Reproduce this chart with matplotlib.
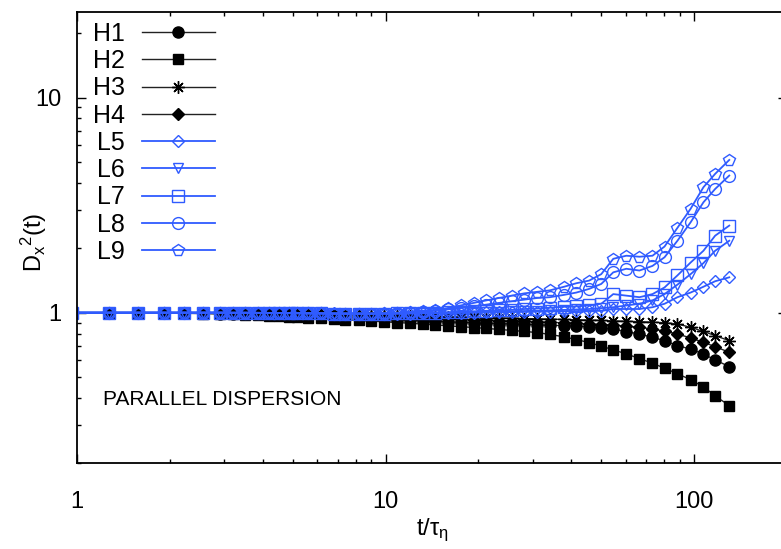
import matplotlib
matplotlib.use('Agg')
import matplotlib.pyplot as plt
from matplotlib.ticker import LogLocator, FormatStrFormatter, NullFormatter

plt.rcParams['font.family'] = ['Liberation Sans', 'DejaVu Sans']
plt.rcParams['mathtext.default'] = 'regular'

# sampling times t/tau_eta (first one sits just left of the axis)
t = [0.96, 1.27, 1.58, 1.92, 2.23, 2.57, 2.91, 3.2,
     3.51, 3.85, 4.18, 4.51, 4.85, 5.18, 5.6, 6.2,
     6.8, 7.4, 8.2, 9.0, 9.9, 10.9, 12.0, 13.2,
     14.5, 15.9, 17.5, 19.3, 21.2, 23.3, 25.6, 28.2,
     31.0, 34.1, 37.9, 41.5, 45.7, 50.0, 54.7, 60.3,
     66.5, 73.3, 80.2, 88.3, 97.4, 107.2, 117.0, 130.0]

h1 = [1.0, 1.0, 1.0, 1.0, 0.998, 0.995, 0.99, 0.988,
      0.985, 0.982, 0.978, 0.975, 0.972, 0.968, 0.964, 0.958,
      0.953, 0.948, 0.942, 0.937, 0.932, 0.927, 0.922, 0.917,
      0.912, 0.907, 0.902, 0.898, 0.894, 0.89, 0.886, 0.882,
      0.878, 0.874, 0.87, 0.866, 0.86, 0.853, 0.84, 0.816,
      0.796, 0.768, 0.741, 0.702, 0.678, 0.642, 0.603, 0.561]
h2 = [1.0, 1.0, 1.0, 0.997, 0.993, 0.99, 0.986, 0.982,
      0.978, 0.973, 0.968, 0.963, 0.958, 0.953, 0.947, 0.94,
      0.934, 0.928, 0.921, 0.914, 0.907, 0.9, 0.893, 0.885,
      0.877, 0.869, 0.861, 0.853, 0.845, 0.836, 0.827, 0.818,
      0.808, 0.792, 0.772, 0.75, 0.726, 0.699, 0.672, 0.643,
      0.612, 0.582, 0.552, 0.52, 0.488, 0.452, 0.41, 0.37]
h3 = [1.0, 1.0, 1.0, 1.0, 1.0, 1.0, 0.998, 0.997,
      0.996, 0.995, 0.994, 0.993, 0.992, 0.99, 0.988, 0.986,
      0.984, 0.981, 0.978, 0.975, 0.972, 0.969, 0.966, 0.963,
      0.96, 0.957, 0.954, 0.951, 0.948, 0.945, 0.942, 0.939,
      0.936, 0.933, 0.93, 0.927, 0.924, 0.92, 0.916, 0.912,
      0.908, 0.903, 0.898, 0.886, 0.855, 0.818, 0.782, 0.741]
h4 = [1.0, 1.0, 1.0, 1.0, 0.999, 0.997, 0.995, 0.993,
      0.991, 0.989, 0.987, 0.985, 0.983, 0.98, 0.977, 0.974,
      0.971, 0.967, 0.963, 0.959, 0.955, 0.951, 0.947, 0.943,
      0.939, 0.935, 0.931, 0.927, 0.923, 0.919, 0.915, 0.911,
      0.907, 0.902, 0.897, 0.892, 0.887, 0.881, 0.875, 0.866,
      0.855, 0.84, 0.82, 0.796, 0.763, 0.728, 0.695, 0.654]
l5 = [1.0, 1.0, 1.0, 1.0, 1.0, 1.0, 1.0, 0.999,
      0.999, 0.998, 0.998, 0.997, 0.996, 0.995, 0.994, 0.993,
      0.992, 0.991, 0.99, 0.99, 0.99, 0.99, 0.991, 0.993,
      0.995, 0.997, 0.999, 1.0, 1.002, 1.004, 1.006, 1.008,
      1.01, 1.012, 1.015, 1.017, 1.02, 1.02, 1.04, 1.04,
      1.04, 1.06, 1.10, 1.18, 1.24, 1.32, 1.40, 1.46]
l6 = [1.0, 1.0, 1.0, 1.0, 1.0, 1.0, 1.0, 0.999,
      0.999, 0.998, 0.997, 0.996, 0.995, 0.994, 0.993, 0.992,
      0.991, 0.99, 0.99, 0.99, 0.99, 0.991, 0.993, 0.996,
      1.0, 1.0, 1.003, 1.006, 1.009, 1.012, 1.015, 1.018,
      1.02, 1.025, 1.03, 1.035, 1.04, 1.05, 1.06, 1.08,
      1.10, 1.14, 1.22, 1.35, 1.51, 1.70, 1.94, 2.16]
l7 = [1.0, 1.0, 1.0, 1.0, 1.0, 1.0, 1.0, 0.999,
      0.999, 0.998, 0.997, 0.996, 0.995, 0.994, 0.993, 0.992,
      0.991, 0.99, 0.99, 0.99, 0.991, 0.993, 0.996, 0.998,
      1.0, 1.005, 1.01, 1.015, 1.02, 1.025, 1.03, 1.04,
      1.045, 1.055, 1.065, 1.07, 1.08, 1.10, 1.22, 1.20,
      1.18, 1.22, 1.31, 1.49, 1.71, 1.94, 2.28, 2.54]
l8 = [1.0, 1.0, 1.0, 1.0, 1.0, 1.0, 1.0, 0.999,
      0.999, 0.998, 0.997, 0.996, 0.995, 0.994, 0.993, 0.992,
      0.99, 0.99, 0.99, 0.99, 0.99, 0.995, 1.0, 1.01,
      1.02, 1.035, 1.05, 1.07, 1.09, 1.11, 1.13, 1.15,
      1.17, 1.18, 1.21, 1.24, 1.29, 1.36, 1.54, 1.60,
      1.57, 1.65, 1.81, 2.16, 2.63, 3.26, 3.76, 4.34]
l9 = [1.0, 1.0, 1.0, 1.0, 1.0, 1.0, 1.0, 0.999,
      0.999, 0.998, 0.997, 0.996, 0.995, 0.994, 0.993, 0.992,
      0.99, 0.99, 0.99, 0.99, 0.995, 1.0, 1.01, 1.02,
      1.03, 1.05, 1.08, 1.11, 1.14, 1.17, 1.20, 1.23,
      1.25, 1.27, 1.32, 1.37, 1.41, 1.51, 1.78, 1.84,
      1.82, 1.84, 2.03, 2.48, 3.04, 3.83, 4.42, 5.13]

black = '#000000'
blue = '#2f5bff'

fig = plt.figure(figsize=(7.81, 5.49), dpi=100)
# right edge of the frame lies just outside the picture, as in the original
ax = fig.add_axes([77 / 781, 86 / 549, 710 / 781, 451 / 549])

# label, data, marker, size, filled, colour
curves = [
    ('H1', h1, 'o', 8, True, black),
    ('H2', h2, 's', 7.5, True, black),
    ('H3', h3, (8, 2, 0), 9, True, black),
    ('H4', h4, 'D', 6, True, black),
    ('L5', l5, 'D', 6.5, False, blue),
    ('L6', l6, 'v', 7.5, False, blue),
    ('L7', l7, 's', 8.5, False, blue),
    ('L8', l8, 'o', 8.5, False, blue),
    ('L9', l9, 'p', 8.5, False, blue),
]

for name, vals, m, ms, filled, c in curves:
    lc = '#222222' if c == black else c
    ax.plot(t, vals, color=lc, lw=1.0 if c == black else 1.3,
            marker=m, ms=ms, mec=c, mfc=c if filled else 'none',
            mew=1.0, label=name)

ax.set_xscale('log')
ax.set_yscale('log')
ax.set_xlim(1, 200)
ax.set_ylim(0.2, 25)

for axis in (ax.xaxis, ax.yaxis):
    axis.set_major_locator(LogLocator(base=10))
    axis.set_minor_locator(LogLocator(base=10, subs=range(2, 10)))
    axis.set_major_formatter(FormatStrFormatter('%g'))
    axis.set_minor_formatter(NullFormatter())

ax.tick_params(which='both', direction='in', top=True, right=True,
               labelsize=17, width=1.0)
ax.tick_params(which='major', length=6.5)
ax.tick_params(which='minor', length=3)
ax.tick_params(axis='x', pad=20)
ax.tick_params(axis='y', pad=11)
for s in ax.spines.values():
    s.set_linewidth(1.3)

ax.set_xlabel(r't/τ$_{η}$', fontsize=17, labelpad=3)
ax.set_ylabel(r'D$_{x}$$^{2}$(t)', fontsize=17)
ax.yaxis.set_label_coords(-0.04, 0.49)

ax.text(0.037, 0.14, 'PARALLEL DISPERSION', transform=ax.transAxes,
        fontsize=15, va='center', ha='left')

ax.legend(loc='upper left', bbox_to_anchor=(0.022, 0.978), frameon=False,
          markerfirst=False, numpoints=1, fontsize=18, handlelength=2.9,
          handletextpad=0.7, labelspacing=0.13, borderpad=0, borderaxespad=0)

fig.savefig('out.png', dpi=100)
